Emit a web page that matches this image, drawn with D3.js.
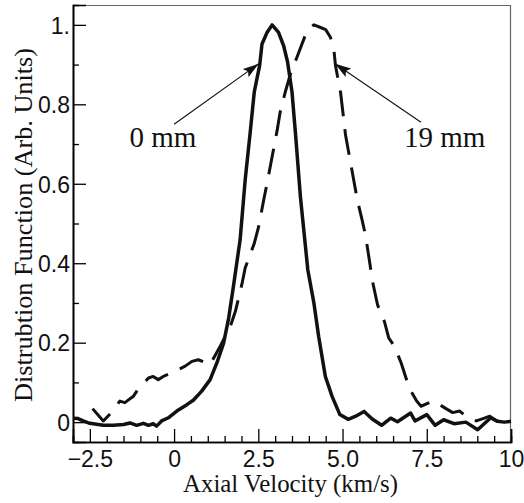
<!DOCTYPE html>
<html>
<head>
<meta charset="utf-8">
<script src="https://cdn.jsdelivr.net/npm/d3@7"></script>
<style>
  html, body { margin: 0; padding: 0; background: #fff; }
  svg { display: block; }
</style>
</head>
<body>
<svg id="chart" width="524" height="503"></svg>
<script>
// ---- data ----
const xTicks = [-2.5, 0, 2.5, 5, 7.5, 10];
const xTickLabels = ["\u22122.5", "0", "2.5", "5.0", "7.5", "10"];
const yTicks = [0, 0.2, 0.4, 0.6, 0.8, 1.0];
const yTickLabels = ["0", "0.2", "0.4", "0.6", "0.8", "1."];

// 0 mm (solid)
const solidX = [-3.0, -2.85, -2.7, -2.5, -2.1, -1.8, -1.5, -1.31, -1.11, -0.91, -0.76, -0.62, -0.52, -0.37, -0.17, 0.08, 0.38, 0.57, 0.82, 1.07, 1.27, 1.47, 1.62, 1.76, 1.96, 2.11, 2.26, 2.38, 2.54, 2.61, 2.76, 2.91, 3.10, 3.25, 3.37, 3.5, 3.6, 3.75, 3.97, 4.15, 4.29, 4.49, 4.69, 4.92, 5.17, 5.39, 5.64, 5.88, 6.16, 6.43, 6.63, 7.02, 7.15, 7.5, 7.75, 8.0, 8.31, 8.66, 9.01, 9.40, 9.6, 9.8, 10.0];
const solidY = [0.010, 0.009, 0.003, -0.003, -0.008, -0.008, -0.006, -0.002, -0.008, -0.003, -0.008, -0.004, -0.010, 0.003, 0.011, 0.028, 0.044, 0.055, 0.078, 0.107, 0.149, 0.199, 0.262, 0.341, 0.459, 0.609, 0.730, 0.831, 0.898, 0.952, 0.981, 1.0, 0.981, 0.948, 0.906, 0.831, 0.730, 0.567, 0.383, 0.300, 0.216, 0.115, 0.065, 0.019, 0.007, 0.015, 0.027, 0.008, -0.008, 0.010, 0.001, 0.023, 0.003, 0.019, -0.008, 0.006, -0.004, 0.0, -0.019, 0.011, 0.002, 0.0, 0.002];

// 19 mm (dashed)
const dashX = [-2.42, -2.1, -1.85, -1.61, -1.46, -1.21, -1.06, -0.76, -0.62, -0.47, -0.32, -0.07, 0.33, 0.53, 0.72, 1.07, 1.37, 1.67, 1.82, 2.01, 2.11, 2.38, 2.51, 2.66, 2.76, 2.91, 3.06, 3.15, 3.30, 3.47, 3.65, 3.95, 4.15, 4.33, 4.50, 4.64, 4.74, 4.79, 4.94, 5.09, 5.44, 5.58, 5.68, 5.81, 5.88, 6.04, 6.24, 6.37, 6.54, 6.74, 6.98, 7.2, 7.33, 7.58, 7.73, 7.88, 8.07, 8.27, 8.47, 8.67, 8.97, 9.17, 9.37, 9.57, 9.8, 10.0];
const dashY = [0.034, 0.003, 0.025, 0.053, 0.049, 0.065, 0.084, 0.111, 0.115, 0.107, 0.115, 0.124, 0.141, 0.153, 0.157, 0.145, 0.191, 0.241, 0.279, 0.346, 0.388, 0.450, 0.492, 0.559, 0.601, 0.668, 0.735, 0.781, 0.831, 0.881, 0.919, 0.986, 1.0, 0.994, 0.988, 0.969, 0.940, 0.898, 0.831, 0.722, 0.559, 0.509, 0.471, 0.400, 0.358, 0.295, 0.254, 0.212, 0.191, 0.149, 0.086, 0.053, 0.040, 0.049, 0.053, 0.044, 0.034, 0.024, 0.028, 0.015, 0.003, 0.009, 0.015, 0.003, 0.002, 0.002];

// annotations: label, label x/y (data), arrow tail x/y, arrow tip x/y
const annLabels = ["0 mm", "19 mm"];
const annTextX = [-0.33, 8.03];
const annTextY = [0.693, 0.693];
const annTailX = [0.0, 7.33];
const annTailY = [0.75, 0.755];
const annTipX = [2.51, 4.78];
const annTipY = [0.902, 0.902];

// ---- layout ----
const svg = d3.select("#chart");
const L = 73, R = 511, T = 5, B = 442;
const x = d3.scaleLinear().domain([-3, 10]).range([L, R]);
const y = d3.scaleLinear().domain([-0.05, 1.05]).range([B, T]);

const sansFont = "'Liberation Sans', Arial, Helvetica, sans-serif";
const serifFont = "'Liberation Serif', 'Times New Roman', Times, serif";

// frame (top/right)
svg.append("line").attr("x1", L).attr("x2", R).attr("y1", T + 0.5).attr("y2", T + 0.5)
  .attr("stroke", "#666").attr("stroke-width", 1.2);
svg.append("line").attr("x1", R - 0.5).attr("x2", R - 0.5).attr("y1", T).attr("y2", B)
  .attr("stroke", "#666").attr("stroke-width", 1.2);

// x axis
const xMinor = d3.range(-3, 10.001, 0.5).filter(v => !xTicks.some(t => Math.abs(t - v) < 1e-6));
const xAxisMinor = d3.axisBottom(x).tickValues(xMinor).tickSize(-6).tickFormat("");
const xAxisMajor = d3.axisBottom(x).tickValues(xTicks).tickSize(-13)
  .tickFormat((d, i) => xTickLabels[i]);
const gxm = svg.append("g").attr("transform", `translate(0,${B})`).call(xAxisMinor);
const gx = svg.append("g").attr("transform", `translate(0,${B})`).call(xAxisMajor);
[gxm, gx].forEach(g => {
  g.selectAll(".domain").attr("stroke", "#000").attr("stroke-width", 1.6);
  g.selectAll(".tick line").attr("stroke", "#000").attr("stroke-width", 1.3);
});
gx.selectAll(".tick text").attr("font-family", sansFont).attr("font-size", 23)
  .attr("fill", "#111").attr("dy", "0.71em").attr("y", 9);

// y axis
const yMinor = d3.range(0, 1.0001, 0.1).filter(v => !yTicks.some(t => Math.abs(t - v) < 1e-6));
const yAxisMinor = d3.axisLeft(y).tickValues(yMinor).tickSize(-6).tickFormat("");
const yAxisMajor = d3.axisLeft(y).tickValues(yTicks).tickSize(-13)
  .tickFormat((d, i) => yTickLabels[i]);
const gym = svg.append("g").attr("transform", `translate(${L},0)`).call(yAxisMinor);
const gy = svg.append("g").attr("transform", `translate(${L},0)`).call(yAxisMajor);
[gym, gy].forEach(g => {
  g.selectAll(".domain").attr("stroke", "#000").attr("stroke-width", 1.6);
  g.selectAll(".tick line").attr("stroke", "#000").attr("stroke-width", 1.3);
});
gy.selectAll(".tick text").attr("font-family", sansFont).attr("font-size", 23)
  .attr("fill", "#111").attr("x", -3).attr("dy", "0.36em");

// axis titles
svg.append("text").attr("x", 290.5).attr("y", 492)
  .attr("text-anchor", "middle").attr("font-family", serifFont).attr("font-size", 24.5)
  .attr("textLength", 215).attr("lengthAdjust", "spacingAndGlyphs")
  .attr("fill", "#111").text("Axial Velocity (km/s)");
svg.append("text").attr("transform", `translate(32,${225}) rotate(-90)`)
  .attr("text-anchor", "middle").attr("font-family", serifFont).attr("font-size", 25)
  .attr("textLength", 354).attr("lengthAdjust", "spacingAndGlyphs")
  .attr("fill", "#111").text("Distrubtion Function (Arb. Units)");

// lines
const solidData = solidX.map((v, i) => [v, solidY[i]]);
const dashData = dashX.map((v, i) => [v, dashY[i]]);
const line = d3.line().x(d => x(d[0])).y(d => y(d[1])).curve(d3.curveLinear);

svg.append("path").datum(dashData).attr("d", line)
  .attr("fill", "none").attr("stroke", "#111").attr("stroke-width", 3)
  .attr("stroke-dasharray", "26,13").attr("stroke-linejoin", "round");
svg.append("path").datum(solidData).attr("d", line)
  .attr("fill", "none").attr("stroke", "#111").attr("stroke-width", 3.5)
  .attr("stroke-linejoin", "round");

// arrows
const defs = svg.append("defs");
defs.append("marker").attr("id", "ah").attr("viewBox", "0 0 16 10")
  .attr("refX", 16).attr("refY", 5).attr("markerWidth", 16).attr("markerHeight", 10)
  .attr("markerUnits", "userSpaceOnUse").attr("orient", "auto")
  .append("path").attr("d", "M0,0 L16,5 L0,10 L3,5 Z").attr("fill", "#111");

annLabels.forEach((lab, i) => {
  svg.append("line")
    .attr("x1", x(annTailX[i])).attr("y1", y(annTailY[i]))
    .attr("x2", x(annTipX[i])).attr("y2", y(annTipY[i]))
    .attr("stroke", "#111").attr("stroke-width", 1.1).attr("marker-end", "url(#ah)");
  svg.append("text").attr("x", x(annTextX[i])).attr("y", y(annTextY[i]))
    .attr("text-anchor", "middle").attr("font-family", serifFont).attr("font-size", 29)
    .attr("fill", "#111").text(lab);
});
</script>
</body>
</html>
